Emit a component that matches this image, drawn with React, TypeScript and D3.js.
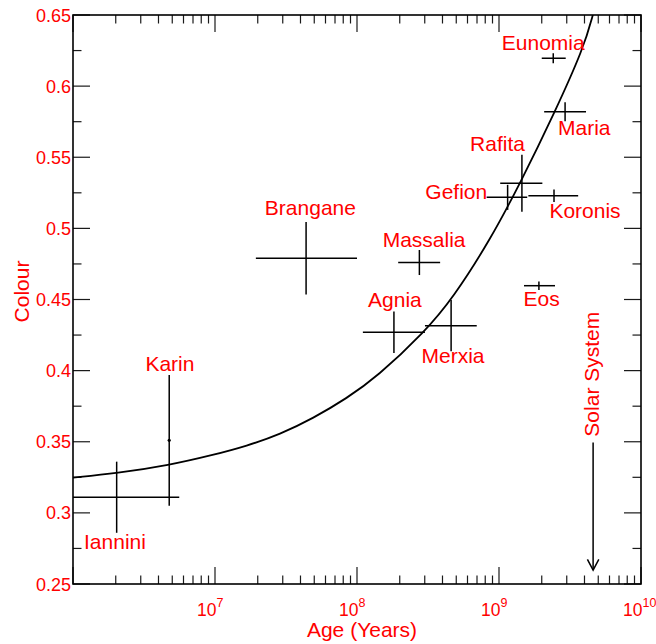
import React from 'react';
import * as d3 from 'd3';

// ---------- data ----------
const families = ['Iannini', 'Karin', 'Brangane', 'Massalia', 'Agnia', 'Merxia', 'Eunomia', 'Maria', 'Rafita', 'Gefion', 'Koronis', 'Eos'];
const ages = [2.03e6, 4.76e6, 4.38e7, 2.75e8, 1.82e8, 4.6e8, 2.41e9, 2.92e9, 1.45e9, 1.15e9, 2.44e9, 1.91e9];
const ageLow: (number | null)[] = [1.0e6, null, 1.94e7, 1.95e8, 1.1e8, 3.01e8, 2.0e9, 2.08e9, 1.02e9, 8.18e8, 1.61e9, 1.5e9];
const ageHigh: (number | null)[] = [5.6e6, null, 1.0e8, 3.85e8, 3.01e8, 6.97e8, 2.95e9, 4.1e9, 2.02e9, 1.58e9, 3.61e9, 2.48e9];
const colours = [0.311, 0.351, 0.479, 0.476, 0.427, 0.4316, 0.6196, 0.582, 0.5317, 0.5218, 0.523, 0.4597];
const colourErr = [0.025, 0.046, 0.0255, 0.0088, 0.0146, 0.018, 0.0035, 0.0067, 0.02, 0.0088, 0.0044, 0.003];

// fitted space-weathering curve
const fitAges = [1.0e6, 2.03e6, 4.76e6, 9.7e6, 1.67e7, 2.87e7, 4.92e7, 8.45e7, 1.38e8, 3.01e8, 4.74e8, 8.65e8, 1.41e9, 2.48e9, 3.93e9, 4.57e9, 5.0e9];
const fitColours = [0.3248, 0.3278, 0.3335, 0.3407, 0.347, 0.3552, 0.3665, 0.3805, 0.3955, 0.4274, 0.451, 0.4918, 0.5317, 0.582, 0.6266, 0.6493, 0.665];

// solar system age marker
const solarAge = 4.6e9;
const solarArrowFrom = 0.3495;
const solarArrowTo = 0.2598;

// axis ticks
const yTickValues = [0.25, 0.3, 0.35, 0.4, 0.45, 0.5, 0.55, 0.6, 0.65];
const yTickLabels = ['0.25', '0.3', '0.35', '0.4', '0.45', '0.5', '0.55', '0.6', '0.65'];
const yMinorValues = [0.275, 0.325, 0.375, 0.425, 0.475, 0.525, 0.575, 0.625];
const xDecades = [6, 7, 8, 9, 10];
const xLabelExponents = ['7', '8', '9', '10'];

// ---------- layout (label offsets in px) ----------
const labelLayout: [number, number, string][] = [
  [-1.7, 51.3, 'middle'],
  [0.7, -69.3, 'middle'],
  [4.3, -43.3, 'middle'],
  [4.7, -16, 'middle'],
  [1, -25.6, 'middle'],
  [1.9, 37.6, 'middle'],
  [-10, -8.3, 'middle'],
  [19.2, 23.3, 'middle'],
  [-24.4, -32.6, 'middle'],
  [-20.4, 2, 'end'],
  [31, 22.6, 'middle'],
  [2.8, 20.3, 'middle'],
];

const W = 656;
const H = 644;
const L = 73, R = 641, T = 15, B = 584;
const FONT = '"Liberation Sans", Arial, Helvetica, sans-serif';
const RED = '#ff0000';

export default function App() {
  const x = d3.scaleLog().domain([1e6, 1e10]).range([L, R]);
  const y = d3.scaleLinear().domain([0.25, 0.65]).range([B, T]);

  const fitPts: [number, number][] = fitAges.map((a, i) => [a, fitColours[i]]);
  const line = d3
    .line<[number, number]>()
    .x((d) => x(d[0]))
    .y((d) => y(d[1]))
    .curve(d3.curveBasis);

  const xMinor: number[] = [];
  for (let k = 6; k < 10; k++) for (let m = 2; m <= 9; m++) xMinor.push(m * Math.pow(10, k));
  const xMajor = xDecades.map((k) => Math.pow(10, k));

  const MAJ = 17, MIN = 8.5;
  const tickStroke = '#1a1a1a';
  const tw = 1.2;
  const baseFs = 17.5;
  const baseW = 1.112 * baseFs;

  return (
    <svg width={W} height={H} style={{ position: 'absolute', left: 0, top: 0, background: '#fff' }} fontFamily={FONT}>
      <defs>
        <clipPath id="plotclip">
          <rect x={L} y={T} width={R - L} height={B - T} />
        </clipPath>
      </defs>
      <rect x={0} y={0} width={W} height={H} fill="#fff" />

      {/* ticks */}
      <g stroke={tickStroke} strokeWidth={tw}>
        {yTickValues.map((v) => (
          <g key={'yt' + v}>
            <line x1={L} x2={L + MAJ} y1={y(v)} y2={y(v)} />
            <line x1={R} x2={R - MAJ} y1={y(v)} y2={y(v)} />
          </g>
        ))}
        {yMinorValues.map((v) => (
          <g key={'ym' + v}>
            <line x1={L} x2={L + MIN} y1={y(v)} y2={y(v)} />
            <line x1={R} x2={R - MIN} y1={y(v)} y2={y(v)} />
          </g>
        ))}
        {xMajor.map((v) => (
          <g key={'xt' + v}>
            <line x1={x(v)} x2={x(v)} y1={B} y2={B - MAJ} />
            <line x1={x(v)} x2={x(v)} y1={T} y2={T + MAJ} />
          </g>
        ))}
        {xMinor.map((v) => (
          <g key={'xm' + v}>
            <line x1={x(v)} x2={x(v)} y1={B} y2={B - MIN} />
            <line x1={x(v)} x2={x(v)} y1={T} y2={T + MIN} />
          </g>
        ))}
      </g>

      {/* frame */}
      <rect x={L} y={T} width={R - L} height={B - T} fill="none" stroke="#000" strokeWidth={1.6} />

      {/* y tick labels */}
      <g fill={RED} fontSize={18} textAnchor="end">
        {yTickValues.map((v, i) => (
          <text key={'yl' + v} x={L - 2} y={y(v) + 6.5}>
            {yTickLabels[i]}
          </text>
        ))}
      </g>

      {/* x tick labels */}
      <g fill={RED}>
        {xLabelExponents.map((e, i) => {
          const xv = x(Math.pow(10, xDecades[i + 1]));
          return (
            <text key={'xl' + e} x={xv + 1.5 - baseW} y={616} fontSize={baseFs} textAnchor="start">
              <tspan>10</tspan>
              <tspan dy={-9} fontSize={12.5}>
                {e}
              </tspan>
            </text>
          );
        })}
      </g>

      {/* axis titles */}
      <text x={362} y={637} fill={RED} fontSize={21} textAnchor="middle">
        Age (Years)
      </text>
      <text transform="translate(29,291.5) rotate(-90)" fill={RED} fontSize={21} textAnchor="middle">
        Colour
      </text>

      {/* fit curve */}
      <path d={line(fitPts) || ''} fill="none" stroke="#000" strokeWidth={1.8} clipPath="url(#plotclip)" />

      {/* error bars */}
      <g stroke="#000" strokeWidth={1.5} clipPath="url(#plotclip)">
        {families.map((f, i) => {
          const cx = x(ages[i]);
          const cy = y(colours[i]);
          const lo = ageLow[i];
          const hi = ageHigh[i];
          return (
            <g key={'eb' + f}>
              <line x1={cx} x2={cx} y1={y(colours[i] - colourErr[i])} y2={y(colours[i] + colourErr[i])} />
              {lo !== null && hi !== null ? <line x1={x(lo)} x2={x(hi)} y1={cy} y2={cy} /> : null}
              {lo === null ? <circle cx={cx} cy={cy} r={1.6} fill="#000" stroke="none" /> : null}
            </g>
          );
        })}
      </g>

      {/* family labels */}
      <g fill={RED} fontSize={21}>
        {families.map((f, i) => {
          const [dx, dy, anchor] = labelLayout[i];
          return (
            <text key={'lb' + f} x={x(ages[i]) + dx} y={y(colours[i]) + dy} textAnchor={anchor}>
              {f}
            </text>
          );
        })}
      </g>

      {/* solar system arrow */}
      <g stroke="#000" strokeWidth={1.5} fill="none">
        <line x1={x(solarAge)} x2={x(solarAge)} y1={y(solarArrowFrom)} y2={y(solarArrowTo)} />
        <polyline
          points={`${x(solarAge) - 5.7},${y(solarArrowTo) - 10.7} ${x(solarAge)},${y(solarArrowTo)} ${x(solarAge) + 5.7},${y(solarArrowTo) - 10.7}`}
        />
      </g>
      <text
        transform={`translate(${x(solarAge) + 6},374.2) rotate(-90)`}
        fill={RED}
        fontSize={21}
        textAnchor="middle"
      >
        Solar System
      </text>
    </svg>
  );
}
